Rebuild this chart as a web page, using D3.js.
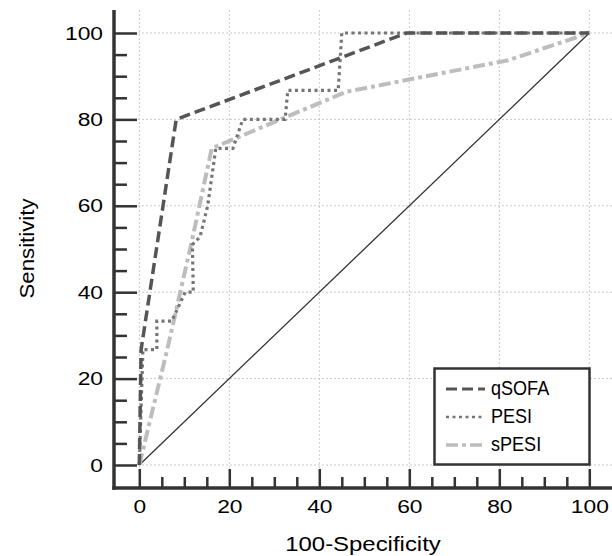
<!DOCTYPE html>
<html>
<head>
<meta charset="utf-8">
<script src="https://cdn.jsdelivr.net/npm/d3@7"></script>
<style>
  html, body { margin: 0; padding: 0; background: #fff; }
  svg { display: block; }
</style>
</head>
<body>
<svg id="chart" width="612" height="556"></svg>
<script>
// ---- data ----
const seriesNames = ["qSOFA", "PESI", "sPESI"];
const qsofaX = [0, 0.4, 8.2, 59.4, 100];
const qsofaY = [0, 26.7, 80, 100, 100];
const pesiX = [0, 0.8, 3.9, 3.9, 7.2, 10.2, 12, 11.8, 13.5, 15.2, 17, 20.8, 23, 32.4, 33, 44.2, 45, 100];
const pesiY = [0, 26.7, 26.7, 33.3, 33.3, 40, 40, 51, 52.8, 60, 73.3, 73.3, 80, 80, 86.7, 86.7, 100, 100];
const spesiX = [0, 6.2, 11.5, 16.1, 46, 82, 100];
const spesiY = [0, 26.7, 51, 73.3, 86.4, 93.7, 100];
const refX = [0, 100];
const refY = [0, 100];
const majorTicks = [0, 20, 40, 60, 80, 100];
const minorTicks = [5, 10, 15, 25, 30, 35, 45, 50, 55, 65, 70, 75, 85, 90, 95];
const xTitle = "100-Specificity";
const yTitle = "Sensitivity";

// ---- layout ----
const W = 612, H = 556;
const svg = d3.select("#chart");
const x = d3.scaleLinear().domain([0, 100]).range([139.3, 589.3]);
const y = d3.scaleLinear().domain([0, 100]).range([465, 33]);
const axisX = 114;   // y-axis line position
const axisY = 488;   // x-axis line position
const topY = 10;
const rightX = W;

// gridlines
const grid = svg.append("g");
grid.selectAll("line.v").data(majorTicks).join("line")
  .attr("x1", d => x(d)).attr("x2", d => x(d))
  .attr("y1", topY).attr("y2", axisY)
  .attr("stroke", "#c8c8c8").attr("stroke-width", 1).attr("stroke-dasharray", "2,2");
grid.selectAll("line.h").data(majorTicks).join("line")
  .attr("x1", axisX).attr("x2", rightX)
  .attr("y1", d => y(d)).attr("y2", d => y(d))
  .attr("stroke", "#c8c8c8").attr("stroke-width", 1).attr("stroke-dasharray", "2,2");

// reference diagonal
const line = d3.line().x(d => x(d[0])).y(d => y(d[1]));
svg.append("path").datum(d3.zip(refX, refY)).attr("d", line)
  .attr("fill", "none").attr("stroke", "#333").attr("stroke-width", 1.3);

const styles = [
  { stroke: "#555555", width: 3.5, dash: "11,5" },
  { stroke: "#757575", width: 3.2, dash: "3,3.5" },
  { stroke: "#bdbdbd", width: 4, dash: "12,4,4,4" }
];
const series = [d3.zip(qsofaX, qsofaY), d3.zip(pesiX, pesiY), d3.zip(spesiX, spesiY)];
// draw order: sPESI, PESI, qSOFA
[2, 1, 0].forEach(i => {
  svg.append("path").datum(series[i]).attr("d", line)
    .attr("fill", "none").attr("stroke", styles[i].stroke)
    .attr("stroke-width", styles[i].width).attr("stroke-dasharray", styles[i].dash)
    .attr("stroke-linejoin", "miter");
});

// axes
const fontFam = "'Liberation Sans', Arial, sans-serif";
const gx = svg.append("g").attr("transform", `translate(0,${axisY})`)
  .call(d3.axisBottom(x).tickValues(majorTicks).tickSize(-19).tickPadding(12).tickSizeOuter(0));
const gxm = svg.append("g").attr("transform", `translate(0,${axisY})`)
  .call(d3.axisBottom(x).tickValues(minorTicks).tickSize(-11).tickFormat(""));
const gy = svg.append("g").attr("transform", `translate(${axisX},0)`)
  .call(d3.axisLeft(y).tickValues(majorTicks).tickSize(-23).tickPadding(11).tickSizeOuter(0));
const gym = svg.append("g").attr("transform", `translate(${axisX},0)`)
  .call(d3.axisLeft(y).tickValues(minorTicks).tickSize(-13).tickFormat(""));
[gx, gxm, gy, gym].forEach(g => {
  g.select(".domain").remove();
  g.selectAll(".tick line").attr("stroke", "#333").attr("stroke-width", 2.5);
  g.selectAll(".tick text").attr("fill", "#000").attr("font-size", 19).attr("font-family", fontFam);
});
gx.selectAll(".tick text").attr("transform", "scale(1.2,1)");
gy.selectAll(".tick text").attr("transform", "scale(1.2,1)").attr("x", -11 / 1.2);

// axis lines
svg.append("line").attr("x1", axisX).attr("x2", axisX).attr("y1", topY).attr("y2", axisY + 1.75)
  .attr("stroke", "#333").attr("stroke-width", 3.5);
svg.append("line").attr("x1", axisX - 1.75).attr("x2", rightX).attr("y1", axisY).attr("y2", axisY)
  .attr("stroke", "#333").attr("stroke-width", 3.5);

// titles
svg.append("text").attr("transform", "translate(363,551) scale(1.14,1)").attr("text-anchor", "middle")
  .attr("font-size", 21).attr("font-family", fontFam).attr("fill", "#000").text(xTitle);
svg.append("text").attr("transform", "translate(33.5,248.5) rotate(-90) scale(1.06,1)").attr("text-anchor", "middle")
  .attr("font-size", 21).attr("font-family", fontFam).attr("fill", "#000").text(yTitle);

// legend
const leg = svg.append("g");
leg.append("rect").attr("x", 434.5).attr("y", 368.5).attr("width", 155).attr("height", 96)
  .attr("fill", "#fff").attr("stroke", "#333").attr("stroke-width", 2.5);
const legY = [389, 417, 445];
seriesNames.forEach((name, i) => {
  leg.append("line").attr("x1", 446).attr("x2", 485).attr("y1", legY[i]).attr("y2", legY[i])
    .attr("stroke", styles[i].stroke).attr("stroke-width", styles[i].width - 0.5)
    .attr("stroke-dasharray", styles[i].dash);
  leg.append("text").attr("transform", `translate(491,${legY[i] + 6}) scale(0.86,1)`)
    .attr("font-size", 21).attr("font-family", fontFam)
    .attr("fill", "#000").text(name);
});
</script>
</body>
</html>
